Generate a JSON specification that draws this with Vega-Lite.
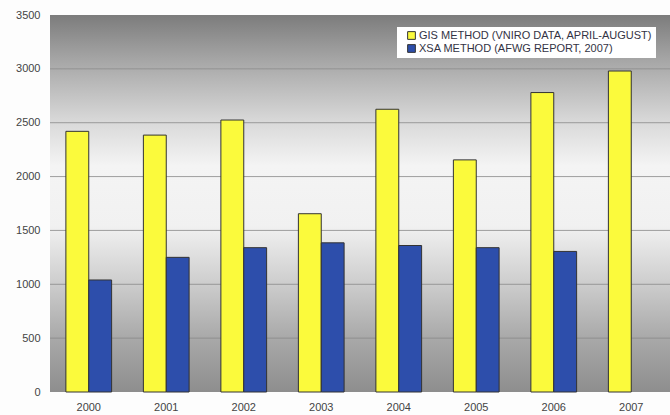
{
  "$schema": "https://vega.github.io/schema/vega-lite/v6.json",
  "width": 620,
  "height": 377,
  "autosize": "none",
  "padding": {"left": 50, "top": 15, "right": 0, "bottom": 23},
  "background": "#fdfdfd",
  "config": {
    "view": {"stroke": null},
    "font": "Liberation Sans"
  },
  "datasets": {
    "bars": [
      {"year": "2000", "method": "GIS METHOD (VNIRO DATA, APRIL-AUGUST)", "value": 2420},
      {"year": "2000", "method": "XSA METHOD (AFWG REPORT, 2007)", "value": 1040},
      {"year": "2001", "method": "GIS METHOD (VNIRO DATA, APRIL-AUGUST)", "value": 2385},
      {"year": "2001", "method": "XSA METHOD (AFWG REPORT, 2007)", "value": 1250},
      {"year": "2002", "method": "GIS METHOD (VNIRO DATA, APRIL-AUGUST)", "value": 2525},
      {"year": "2002", "method": "XSA METHOD (AFWG REPORT, 2007)", "value": 1340},
      {"year": "2003", "method": "GIS METHOD (VNIRO DATA, APRIL-AUGUST)", "value": 1655},
      {"year": "2003", "method": "XSA METHOD (AFWG REPORT, 2007)", "value": 1385},
      {"year": "2004", "method": "GIS METHOD (VNIRO DATA, APRIL-AUGUST)", "value": 2625},
      {"year": "2004", "method": "XSA METHOD (AFWG REPORT, 2007)", "value": 1360},
      {"year": "2005", "method": "GIS METHOD (VNIRO DATA, APRIL-AUGUST)", "value": 2155},
      {"year": "2005", "method": "XSA METHOD (AFWG REPORT, 2007)", "value": 1340},
      {"year": "2006", "method": "GIS METHOD (VNIRO DATA, APRIL-AUGUST)", "value": 2780},
      {"year": "2006", "method": "XSA METHOD (AFWG REPORT, 2007)", "value": 1305},
      {"year": "2007", "method": "GIS METHOD (VNIRO DATA, APRIL-AUGUST)", "value": 2980}
    ],
    "grid": [
      {"tick": 500}, {"tick": 1000}, {"tick": 1500}, {"tick": 2000},
      {"tick": 2500}, {"tick": 3000}
    ],
    "bg": [{"lo": 0, "hi": 3500}]
  },
  "layer": [
    {
      "data": {"name": "bg"},
      "mark": {
        "type": "rect",
        "color": {
          "gradient": "linear",
          "x1": 0, "y1": 0, "x2": 0, "y2": 1,
          "stops": [
            {"offset": 0, "color": "#7c7c7c"},
            {"offset": 0.12, "color": "#a6a6a6"},
            {"offset": 0.28, "color": "#d8d8d8"},
            {"offset": 0.4, "color": "#f4f4f4"},
            {"offset": 0.56, "color": "#f1f1f1"},
            {"offset": 0.7, "color": "#d0d0d0"},
            {"offset": 0.86, "color": "#a8a8a8"},
            {"offset": 1, "color": "#8e8e8e"}
          ]
        }
      },
      "encoding": {
        "y": {"field": "lo", "type": "quantitative", "scale": {"domain": [0, 3500], "nice": false}},
        "y2": {"field": "hi"}
      }
    },
    {
      "data": {"name": "grid"},
      "mark": {"type": "rule", "color": "#8a8a8a", "strokeWidth": 1, "opacity": 0.8},
      "encoding": {
        "y": {"field": "tick", "type": "quantitative"}
      }
    },
    {
      "data": {"name": "bars"},
      "mark": {"type": "bar", "stroke": "#333333", "strokeWidth": 1},
      "encoding": {
        "x": {
          "field": "year", "type": "nominal",
          "scale": {"paddingInner": 0.41, "paddingOuter": 0.205},
          "axis": {
            "title": null, "labelAngle": 0, "ticks": false, "domain": false,
            "labelFontSize": 11, "labelColor": "#444444", "labelPadding": 9
          }
        },
        "xOffset": {"field": "method", "type": "nominal"},
        "y": {
          "field": "value", "type": "quantitative",
          "scale": {"domain": [0, 3500], "nice": false},
          "axis": {
            "title": null, "values": [0, 500, 1000, 1500, 2000, 2500, 3000, 3500],
            "format": "d",
            "grid": false, "ticks": false, "domain": false,
            "labelFontSize": 11, "labelColor": "#444444", "labelPadding": 10
          }
        },
        "color": {
          "field": "method", "type": "nominal",
          "scale": {
            "domain": ["GIS METHOD (VNIRO DATA, APRIL-AUGUST)", "XSA METHOD (AFWG REPORT, 2007)"],
            "range": ["#fbfa3c", "#2d4eab"]
          },
          "legend": {
            "title": null, "orient": "none", "legendX": 347, "legendY": 12,
            "fillColor": "#ffffff", "padding": 3, "rowPadding": 0,
            "symbolType": "square", "symbolSize": 60, "symbolStrokeColor": "#333333",
            "symbolStrokeWidth": 1, "labelFontSize": 11, "labelColor": "#333344",
            "labelLimit": 400, "symbolOffset": 6, "labelOffset": 2
          }
        }
      }
    }
  ]
}
